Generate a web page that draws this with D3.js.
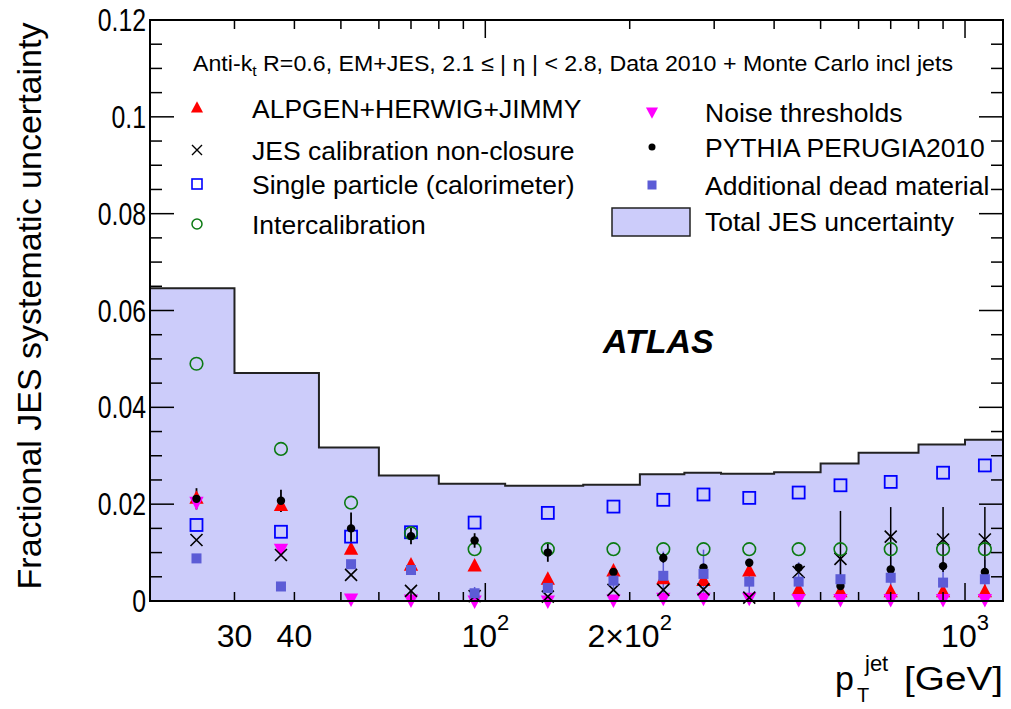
<!DOCTYPE html>
<html><head><meta charset="utf-8">
<script src="https://cdn.jsdelivr.net/npm/d3@7"></script>
<style>body{margin:0;background:#fff}svg{display:block}text{font-family:"Liberation Sans",Arial,sans-serif}</style>
</head><body><svg id="c" width="1011" height="709"></svg>
<script>
// ---------------- data ----------------
const ptCenters = [25, 37.5, 52.5, 70, 95, 135, 185, 235, 285, 355, 450, 550, 700, 900, 1100];
const binEdges = [20, 30, 45, 60, 80, 110, 160, 210, 260, 310, 400, 500, 600, 800, 1000, 1200];
const totalJES = [0.0646, 0.0471, 0.0317, 0.0259, 0.0242, 0.0238, 0.0240, 0.0262, 0.0265, 0.0263, 0.0266, 0.0284, 0.0306, 0.0323, 0.0333];
const alpgen = [0.0212, 0.0197, 0.0107, 0.0074, 0.0072, 0.0045, 0.0062, 0.0046, 0.0042, 0.0062, 0.0023, 0.0019, 0.0019, 0.0019, 0.0019];
const nonClosure = [0.0126, 0.0095, 0.0054, 0.0021, 0.0010, 0.0009, 0.0023, 0.0023, 0.0024, 0.0007, 0.0060, 0.0087, 0.0133, 0.0127, 0.0127];
const nonClosureErr = [0, 0, 0, 0, 0, 0, 0, 0, 0, 0, 0, 0.0099, 0.0061, 0.0067, 0.0067];
const singleParticle = [0.0157, 0.0143, 0.0133, 0.0142, 0.0162, 0.0182, 0.0195, 0.0209, 0.0220, 0.0213, 0.0224, 0.0239, 0.0246, 0.0265, 0.0280];
const intercalibration = [0.0490, 0.0314, 0.0203, 0.0140, 0.0107, 0.0107, 0.0107, 0.0107, 0.0107, 0.0107, 0.0107, 0.0107, 0.0107, 0.0107, 0.0107];
const noise = [0.0204, 0.0107, 0.0004, 0.0002, 0.0000, 0.0000, 0.0002, 0.0006, 0.0006, 0.0006, 0.0003, 0.0003, 0.0003, 0.0003, 0.0003];
const pythia = [0.0211, 0.0207, 0.0150, 0.0134, 0.0125, 0.0100, 0.0060, 0.0089, 0.0069, 0.0079, 0.0069, 0.0031, 0.0065, 0.0072, 0.0060];
const pythiaErr = [0.0022, 0.0023, 0.0033, 0.0017, 0.0015, 0.0019, 0.0010, 0.0010, 0.0008, 0.0008, 0.0008, 0.0008, 0.0008, 0.0008, 0.0008];
const deadMaterial = [0.0088, 0.0030, 0.0076, 0.0064, 0.0016, 0.0027, 0.0042, 0.0052, 0.0056, 0.0040, 0.0040, 0.0045, 0.0048, 0.0038, 0.0045];
const deadErr = [0, 0, 0, 0, 0.0013, 0.0010, 0.0015, 0.0050, 0.0050, 0.0045, 0.0040, 0.0045, 0.0045, 0.0040, 0.0040];
const yTicks = [0, 0.02, 0.04, 0.06, 0.08, 0.1, 0.12];
const yTickLabels = ["0", "0.02", "0.04", "0.06", "0.08", "0.1", "0.12"];
const xMinorTicks = [30, 40, 50, 60, 70, 80, 90, 200, 300, 400, 500, 600, 700, 800, 900];
const xMajorTicks = [100, 1000];
const xLabelValues = [30, 40, 100, 200, 1000];
const xLabels = [["30", ""], ["40", ""], ["10", "2"], ["2\u00d710", "2"], ["10", "3"]];
const legendLeft = ["ALPGEN+HERWIG+JIMMY", "JES calibration non-closure", "Single particle (calorimeter)", "Intercalibration"];
const legendRight = ["Noise thresholds", "PYTHIA PERUGIA2010", "Additional dead material", "Total JES uncertainty"];

// ---------------- layout ----------------
const L = 150, R = 1003, T = 20, B = 601;
const svg = d3.select("#c");
const x = d3.scaleLog().domain([20, 1200]).range([L, R]);
const y = d3.scaleLinear().domain([0, 0.12]).range([B, T]);

const C = {alp: "#ff0000", noise: "#ff00ff", xs: "#000000", sp: "#0000ff", ic: "#0b7a12", py: "#000000", dead: "#5c5cd6", fill: "#ccccfa"};

// total JES band (step histogram)
const stepPts = [];
totalJES.forEach((v, i) => { stepPts.push([binEdges[i], v]); stepPts.push([binEdges[i + 1], v]); });
const area = d3.area().x(d => x(d[0])).y0(y(0)).y1(d => y(d[1]));
const line = d3.line().x(d => x(d[0])).y(d => y(d[1]));
svg.append("path").datum(stepPts).attr("d", area).attr("fill", C.fill);
svg.append("path").datum(stepPts).attr("d", line).attr("fill", "none").attr("stroke", "#222").attr("stroke-width", 2);

// marker shapes
function triUp(s) { return `M0,${-s * 0.62}L${s * 0.55},${s * 0.42}L${-s * 0.55},${s * 0.42}Z`; }
function triDown(s) { return `M0,${s * 0.62}L${s * 0.55},${-s * 0.42}L${-s * 0.55},${-s * 0.42}Z`; }
function cross(s) { const h = s / 2; return `M${-h},${-h}L${h},${h}M${-h},${h}L${h},${-h}`; }

function errBars(vals, errs, color, w) {
  svg.append("g").selectAll("line").data(ptCenters.map((p, i) => [p, vals[i], errs[i]]).filter(d => d[2] > 0))
    .join("line").attr("x1", d => x(d[0])).attr("x2", d => x(d[0]))
    .attr("y1", d => y(Math.min(0.12, d[1] + d[2]))).attr("y2", d => y(Math.max(0, d[1] - d[2])))
    .attr("stroke", color).attr("stroke-width", w || 1.5);
}
function pathMarkers(vals, shape, s, fill, stroke, sw) {
  svg.append("g").selectAll("path").data(ptCenters.map((p, i) => [p, vals[i]]))
    .join("path").attr("transform", d => `translate(${x(d[0])},${y(d[1])})`)
    .attr("d", shape(s)).attr("fill", fill).attr("stroke", stroke).attr("stroke-width", sw || 0);
}
// squeeze/stretch a text element to a given width factor
function fitW(sel, f) { const n = sel.node(); const w = n.getComputedTextLength(); sel.attr("textLength", w * f).attr("lengthAdjust", "spacingAndGlyphs"); return sel; }

// error bars
errBars(deadMaterial, deadErr, C.dead, 1.5);
errBars(nonClosure, nonClosureErr, "#000", 1.5);
errBars(pythia, pythiaErr, "#000", 1.8);

// markers
pathMarkers(alpgen, triUp, 13, C.alp, "none");
pathMarkers(noise, triDown, 13, C.noise, "none");
pathMarkers(nonClosure, cross, 12, "none", C.xs, 1.6);
svg.append("g").selectAll("rect").data(ptCenters.map((p, i) => [p, singleParticle[i]])).join("rect")
  .attr("x", d => x(d[0]) - 6).attr("y", d => y(d[1]) - 6).attr("width", 12).attr("height", 12)
  .attr("fill", "none").attr("stroke", C.sp).attr("stroke-width", 1.8);
svg.append("g").selectAll("circle").data(ptCenters.map((p, i) => [p, intercalibration[i]])).join("circle")
  .attr("cx", d => x(d[0])).attr("cy", d => y(d[1])).attr("r", 6.3)
  .attr("fill", "none").attr("stroke", C.ic).attr("stroke-width", 1.6);
svg.append("g").selectAll("circle").data(ptCenters.map((p, i) => [p, pythia[i]])).join("circle")
  .attr("cx", d => x(d[0])).attr("cy", d => y(d[1])).attr("r", 4.2).attr("fill", C.py);
svg.append("g").selectAll("rect").data(ptCenters.map((p, i) => [p, deadMaterial[i]])).join("rect")
  .attr("x", d => x(d[0]) - 5).attr("y", d => y(d[1]) - 5).attr("width", 10).attr("height", 10)
  .attr("fill", C.dead);

// frame
svg.append("rect").attr("x", L).attr("y", T).attr("width", R - L).attr("height", B - T)
  .attr("fill", "none").attr("stroke", "#000").attr("stroke-width", 2);

// y ticks (left & right)
const yMinor = d3.range(0, 0.1201, 0.005);
const tg = svg.append("g").attr("stroke", "#000").attr("stroke-width", 1.5);
yMinor.forEach(v => {
  const major = Math.abs(v / 0.02 - Math.round(v / 0.02)) < 1e-6;
  const len = major ? 24 : 12;
  tg.append("line").attr("x1", L).attr("x2", L + len).attr("y1", y(v)).attr("y2", y(v));
  tg.append("line").attr("x1", R).attr("x2", R - len).attr("y1", y(v)).attr("y2", y(v));
});
// x ticks (bottom & top)
xMinorTicks.forEach(v => {
  tg.append("line").attr("x1", x(v)).attr("x2", x(v)).attr("y1", B).attr("y2", B - 9);
  tg.append("line").attr("x1", x(v)).attr("x2", x(v)).attr("y1", T).attr("y2", T + 9);
});
xMajorTicks.forEach(v => {
  tg.append("line").attr("x1", x(v)).attr("x2", x(v)).attr("y1", B).attr("y2", B - 18);
  tg.append("line").attr("x1", x(v)).attr("x2", x(v)).attr("y1", T).attr("y2", T + 18);
});

// y labels
yTicks.forEach((v, i) => {
  fitW(svg.append("text").attr("x", 146).attr("y", y(v) + 11).attr("text-anchor", "end")
    .attr("font-size", 31).text(yTickLabels[i]), 0.8);
});
// x labels
xLabelValues.forEach((v, i) => {
  const t = svg.append("text").attr("x", x(v)).attr("y", 647).attr("text-anchor", "middle").attr("font-size", 32);
  t.append("tspan").text(xLabels[i][0]);
  if (xLabels[i][1]) t.append("tspan").attr("dy", -17).attr("font-size", 22).text(xLabels[i][1]);
});

// axis titles
svg.append("text").attr("transform", "translate(41,306) rotate(-90)").attr("text-anchor", "middle")
  .attr("font-size", 34).text("Fractional JES systematic uncertainty");
svg.append("text").attr("x", 835).attr("y", 690).attr("font-size", 34).text("p");
svg.append("text").attr("x", 857).attr("y", 702).attr("font-size", 20).text("T");
svg.append("text").attr("x", 865).attr("y", 671).attr("font-size", 22).text("jet");
fitW(svg.append("text").attr("x", 904).attr("y", 690).attr("font-size", 34).text("[GeV]"), 1.14);

// header
const hd = svg.append("text").attr("x", 193).attr("y", 71).attr("font-size", 22);
hd.append("tspan").text("Anti-k");
hd.append("tspan").attr("font-size", 15).attr("dy", 5).text("t");
hd.append("tspan").attr("dy", -5).text(" R=0.6, EM+JES, 2.1 \u2264 | \u03b7 | < 2.8, Data 2010 + Monte Carlo incl jets");
hd.attr("textLength", 760).attr("lengthAdjust", "spacingAndGlyphs");

// ATLAS
svg.append("text").attr("x", 603).attr("y", 353).attr("font-size", 34).attr("font-weight", "bold")
  .attr("font-style", "italic").text("ATLAS");

// legend
const lyL = [108, 150, 184, 224], lyR = [112, 147, 185, 221];
const lg = svg.append("g");
lg.append("path").attr("transform", `translate(197,${lyL[0]})`).attr("d", triUp(11)).attr("fill", C.alp);
lg.append("path").attr("transform", `translate(197,${lyL[1]})`).attr("d", cross(10)).attr("stroke", "#000").attr("stroke-width", 1.4);
lg.append("rect").attr("x", 192).attr("y", lyL[2] - 5).attr("width", 10).attr("height", 10).attr("fill", "none").attr("stroke", C.sp).attr("stroke-width", 1.6);
lg.append("circle").attr("cx", 197).attr("cy", lyL[3]).attr("r", 5).attr("fill", "none").attr("stroke", C.ic).attr("stroke-width", 1.5);
lg.append("path").attr("transform", `translate(652,${lyR[0]})`).attr("d", triDown(11)).attr("fill", C.noise);
lg.append("circle").attr("cx", 652).attr("cy", lyR[1]).attr("r", 3.5).attr("fill", "#000");
lg.append("rect").attr("x", 647.5).attr("y", lyR[2] - 4.5).attr("width", 9).attr("height", 9).attr("fill", C.dead);
lg.append("rect").attr("x", 612).attr("y", 208).attr("width", 78).attr("height", 28).attr("fill", C.fill).attr("stroke", "#222").attr("stroke-width", 1.5);
legendLeft.forEach((t, i) => lg.append("text").attr("x", 252).attr("y", lyL[i] + 10).attr("font-size", 26.5).text(t));
legendRight.forEach((t, i) => lg.append("text").attr("x", 705).attr("y", lyR[i] + 10).attr("font-size", 26.5).text(t));
</script></body></html>
